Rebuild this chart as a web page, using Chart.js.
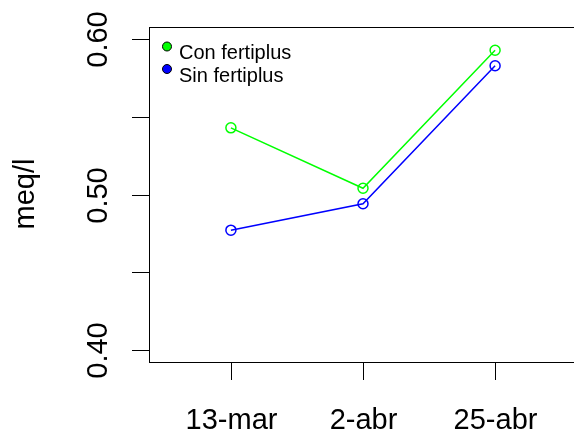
<!DOCTYPE html>
<html>
<head>
<meta charset="utf-8">
<script src="https://cdn.jsdelivr.net/npm/chart.js@4/dist/chart.umd.min.js"></script>
<style>
  html, body { margin: 0; padding: 0; background: #fff; overflow: hidden; }
  #wrap { width: 574px; height: 433px; overflow: hidden; }
</style>
</head>
<body>
<div id="wrap"><canvas id="grafico" width="600" height="433"></canvas></div>
<script>
const categorias = ['13-mar', '2-abr', '25-abr'];
const conFertiplus = [0.543, 0.504, 0.593];
const sinFertiplus = [0.477, 0.494, 0.583];
const yTicks = [0.40, 0.45, 0.50, 0.55, 0.60];
const yEtiquetas = ['0.40', '', '0.50', '', '0.60'];
const series = ['Con fertiplus', 'Sin fertiplus'];
const colores = ['#00ff00', '#0000ff'];

const FUENTE = '"Liberation Sans", Arial, sans-serif';

const puntos = (vals) => vals.map((v, i) => ({ x: i + 1, y: v }));

// ejes, caja y leyenda estilo R
const estiloR = {
    id: 'estiloR',
    afterDraw(chart) {
        const { ctx, chartArea: a, scales: { x, y } } = chart;
        ctx.save();
        ctx.strokeStyle = '#000';
        ctx.lineWidth = 1;
        ctx.strokeRect(a.left + 0.5, a.top + 0.5, a.right - a.left, a.bottom - a.top);

        // eje y
        ctx.fillStyle = '#000';
        ctx.font = '29px ' + FUENTE;
        ctx.textAlign = 'center';
        ctx.textBaseline = 'alphabetic';
        yTicks.forEach((t, i) => {
            const py = Math.round(y.getPixelForValue(t)) + 0.5;
            ctx.beginPath();
            ctx.moveTo(a.left - 17, py);
            ctx.lineTo(a.left, py);
            ctx.stroke();
            if (yEtiquetas[i]) {
                ctx.save();
                ctx.translate(107, py);
                ctx.rotate(-Math.PI / 2);
                ctx.fillText(yEtiquetas[i], 0, 0);
                ctx.restore();
            }
        });

        // eje x
        categorias.forEach((c, i) => {
            const px = Math.round(x.getPixelForValue(i + 1)) + 0.5;
            ctx.beginPath();
            ctx.moveTo(px, a.bottom);
            ctx.lineTo(px, a.bottom + 18);
            ctx.stroke();
            ctx.fillText(c, px, 429);
        });

        // titulo eje y
        ctx.save();
        ctx.translate(34, 194);
        ctx.rotate(-Math.PI / 2);
        ctx.fillText('meq/l', 0, 0);
        ctx.restore();

        // leyenda
        ctx.font = '20px ' + FUENTE;
        ctx.textAlign = 'left';
        series.forEach((s, i) => {
            const cy = 46.5 + i * 22.5;
            ctx.beginPath();
            ctx.arc(167, cy, 4.5, 0, Math.PI * 2);
            ctx.fillStyle = colores[i];
            ctx.fill();
            ctx.strokeStyle = '#000';
            ctx.lineWidth = 1;
            ctx.stroke();
            ctx.fillStyle = '#000';
            ctx.fillText(s, 179, 59 + i * 22.5);
        });
        ctx.restore();
    }
};

new Chart(document.getElementById('grafico'), {
    type: 'line',
    data: {
        datasets: [conFertiplus, sinFertiplus].map((vals, i) => ({
            label: series[i],
            data: puntos(vals),
            borderColor: colores[i],
            backgroundColor: 'transparent',
            borderWidth: 1.5,
            pointRadius: 5,
            pointBorderWidth: 1.5,
            pointBackgroundColor: 'transparent',
            pointBorderColor: colores[i],
            tension: 0
        }))
    },
    options: {
        responsive: false,
        animation: false,
        events: [],
        layout: { padding: { left: 149, top: 27, right: 23, bottom: 71 } },
        scales: {
            x: { type: 'linear', min: 0.38, max: 3.62, display: false },
            y: { type: 'linear', min: 0.392, max: 0.608, display: false }
        },
        plugins: {
            legend: { display: false },
            tooltip: { enabled: false }
        }
    },
    plugins: [estiloR]
});
</script>
</body>
</html>
